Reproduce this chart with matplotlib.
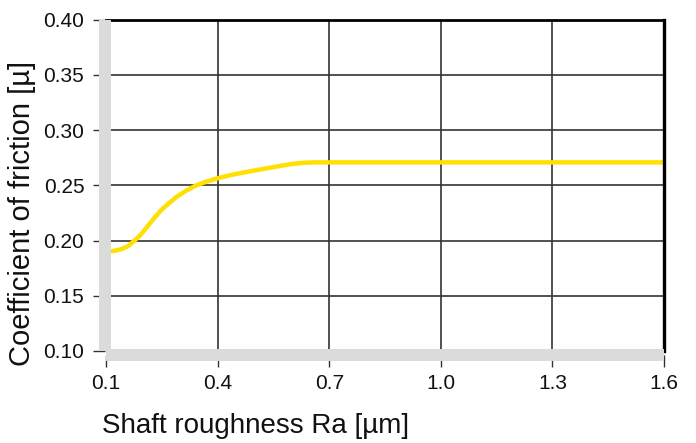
import matplotlib
matplotlib.use("Agg")
import matplotlib.pyplot as plt

# Data
roughness = [0.10, 0.12, 0.14, 0.16, 0.175, 0.19, 0.21, 0.23, 0.25, 0.27, 0.29,
             0.315, 0.34, 0.37, 0.40, 0.43, 0.46, 0.49, 0.53, 0.57, 0.60, 0.63, 0.66,
             0.70, 1.0, 1.3, 1.6]
friction = [0.190, 0.1905, 0.192, 0.195, 0.1995, 0.204, 0.212, 0.2205, 0.228, 0.234, 0.2395,
            0.245, 0.2495, 0.2533, 0.2563, 0.2588, 0.2609, 0.2628, 0.2652, 0.2676, 0.2693,
            0.2703, 0.2707, 0.2707, 0.2707, 0.2707, 0.2707]
x_ticks = [0.1, 0.4, 0.7, 1.0, 1.3, 1.6]
x_ticklabels = ["0.1", "0.4", "0.7", "1.0", "1.3", "1.6"]
y_ticks = [0.10, 0.15, 0.20, 0.25, 0.30, 0.35, 0.40]
y_ticklabels = ["0.10", "0.15", "0.20", "0.25", "0.30", "0.35", "0.40"]

plt.rcParams['font.family'] = ['Liberation Sans', 'DejaVu Sans']

W, H = 696, 443
fig = plt.figure(figsize=(W / 100, H / 100), dpi=100)
left, right, bottom, top = 106, 664, 351, 19.5
ax = fig.add_axes([left / W, 1 - bottom / H, (right - left) / W, (bottom - top) / H])

ax.plot(roughness, friction, color="#FFE000", lw=3.2, solid_capstyle="butt", zorder=2)

ax.set_xlim(0.1, 1.6)
ax.set_ylim(0.10, 0.40)
ax.set_xticks(x_ticks)
ax.set_xticklabels(x_ticklabels)
ax.set_yticks(y_ticks)
ax.set_yticklabels(y_ticklabels)

ax.grid(True, color="#333333", lw=1.2, zorder=1)
ax.set_axisbelow(True)

for s in ("left", "bottom"):
    ax.spines[s].set_color("#DADBDB")
    ax.spines[s].set_linewidth(8.6)
    ax.spines[s].set_zorder(3)
    ax.spines[s].set_capstyle("butt")
ax.spines["bottom"].set_position(("outward", 3))
ax.spines["left"].set_position(("outward", 1))
ax.spines["top"].set_color("black")
ax.spines["top"].set_linewidth(2)
ax.spines["right"].set_color("black")
ax.spines["right"].set_linewidth(2.4)

ax.tick_params(axis="y", length=8.6, width=1, color="#333333", pad=6, labelsize=15)
ax.tick_params(axis="x", length=8.6, width=1, color="#333333", pad=5, labelsize=15)
for lab in ax.get_xticklabels() + ax.get_yticklabels():
    lab.set_color("#111111")

fig.text(22 / W, 1 - 213 / H, "Coefficient of friction [µ]", rotation=90,
         ha="center", va="center", fontsize=21, color="#111111")
fig.text(102 / W, 1 - 433 / H, "Shaft roughness Ra [µm]",
         ha="left", va="baseline", fontsize=20, color="#111111")

fig.savefig("out.png", dpi=100)
